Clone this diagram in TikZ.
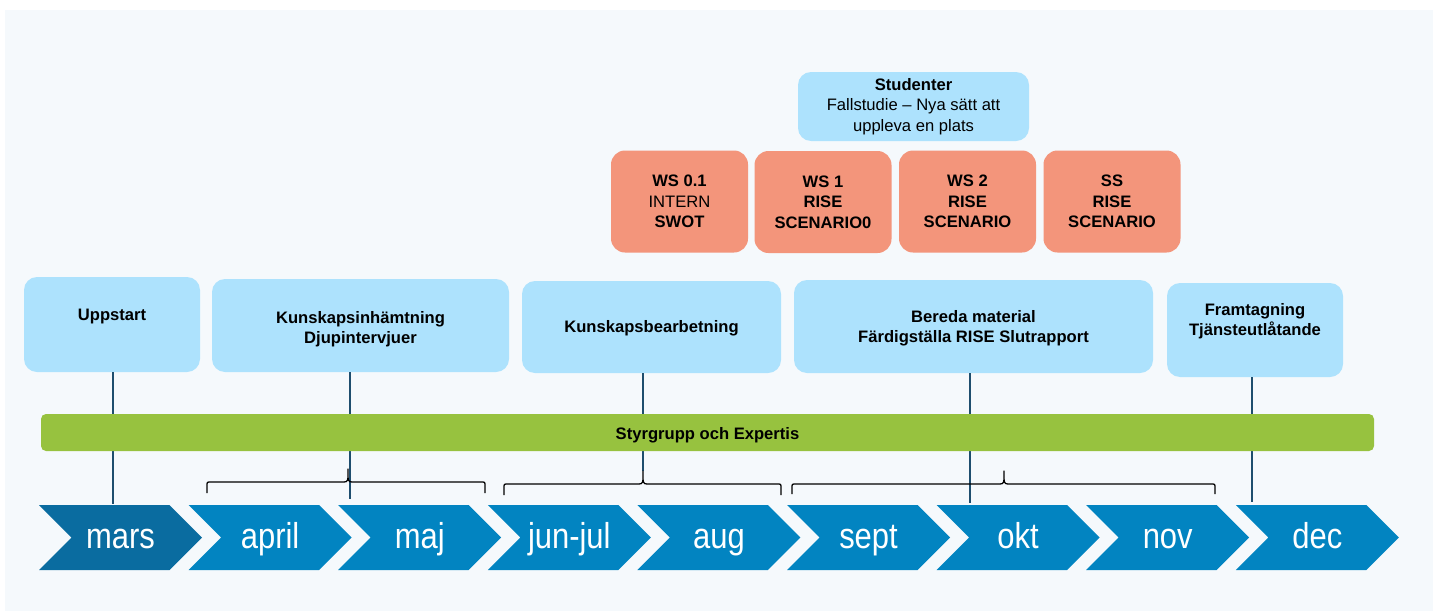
\documentclass[tikz,border=0pt]{standalone}
\usepackage{fontspec}
\setmainfont{Liberation Sans}
\newfontfamily\monthfont{Liberation Sans}[FakeStretch=0.86]
\usetikzlibrary{shapes.symbols,calc}
\definecolor{panel}{RGB}{245,249,252}
\definecolor{lblue}{RGB}{173,226,253}
\definecolor{salmon}{RGB}{243,149,123}
\definecolor{barGreen}{RGB}{151,194,63}
\definecolor{chev}{RGB}{2,132,193}
\definecolor{chevdark}{RGB}{10,108,160}
\definecolor{lineblue}{RGB}{30,78,110}
\tikzset{
  boxfont/.style={font=\fontsize{16.6}{20.5}\selectfont},
  lbox/.style={fill=lblue, rounded corners=13pt, inner sep=0pt, align=center, boxfont},
  obox/.style={fill=salmon, rounded corners=14pt, inner sep=0pt, align=center,
    font=\bfseries\fontsize{16.6}{20.3}\selectfont, minimum width=137pt, minimum height=102pt},
  boxtext/.style={inner sep=0pt, anchor=north, align=center, font=\bfseries\fontsize{16.6}{20.5}\selectfont},
  month/.style={signal, signal to=east, signal from=west, signal pointer angle=90,
    minimum width=163pt, minimum height=65pt, inner sep=0pt, fill=chev, text=white,
    font=\monthfont\fontsize{36}{36}\selectfont, text height=29pt, text depth=8pt},
  vline/.style={draw=lineblue, line width=1.2pt},
  bracket/.style={draw=black, line width=1.3pt, line join=round},
}
\begin{document}
\begin{tikzpicture}[x=1pt,y=-1pt]
\useasboundingbox (0,0) rectangle (1437,613);
\fill[white] (0,0) rectangle (1437,613);
\fill[panel] (5,10) rectangle (1433,611);

% Studenter and workshops
\node[lbox, minimum width=231pt, minimum height=69pt] (stud) at (913.5,106.5)
  {\textbf{Studenter}\\Fallstudie – Nya sätt att\\uppleva en plats};
\node[obox] (ws01) at (679.5,201.5) {WS 0.1\\\mdseries INTERN\\SWOT};
\node[obox] (ws1) at (823,202) {WS 1\\RISE\\SCENARIO0};
\node[obox] (ws2) at (967.5,201.5) {WS 2\\RISE\\SCENARIO};
\node[obox] (ss) at (1112,201.5) {SS\\RISE\\SCENARIO};

% phase boxes
\node[lbox, minimum width=176pt, minimum height=95pt] (upp) at (112,324.5) {};
\node[lbox, minimum width=297pt, minimum height=93pt] (kun) at (360.5,325.5) {};
\node[lbox, minimum width=259pt, minimum height=92pt] (bea) at (651.5,327) {};
\node[lbox, minimum width=359pt, minimum height=93pt] (ber) at (973.5,326.5) {};
\node[lbox, minimum width=176pt, minimum height=94pt] (fra) at (1255,330) {};
\node[boxtext] (uppT) at (112,309) {Uppstart};
\node[boxtext] (kunT) at (360.5,311) {Kunskapsinhämtning\\Djupintervjuer};
\node[boxtext] (beaT) at (651.5,320) {Kunskapsbearbetning};
\node[boxtext] (berT) at (973.5,310) {Bereda material\\Färdigställa RISE Slutrapport};
\node[boxtext] (fraT) at (1255,303) {Framtagning\\Tjänsteutlåtande};

% end points of connectors
\coordinate (e1) at (113,504);
\coordinate (e2) at (350,499);
\coordinate (e3) at (643,471);
\coordinate (e4) at (970,503);
\coordinate (e5) at (1252,502);

\draw[vline] (upp.south -| e1) -- (e1);
\draw[vline] (kun.south -| e2) -- (e2);
\draw[vline] (bea.south -| e3) -- (e3);
\draw[vline] (ber.south -| e4) -- (e4);
\draw[vline] (fra.south -| e5) -- (e5);

% green bar
\node[fill=barGreen, rounded corners=5pt, minimum width=1333pt, minimum height=37pt,
  inner sep=0pt, font=\bfseries\fontsize{16.6}{20}\selectfont, text height=16.4pt, text depth=3.4pt]
  (bar) at (707.5,432.5) {Styrgrupp och Expertis};

% braces
\coordinate (b1l) at (207,493); \coordinate (b1r) at (485,493); \coordinate (b1t) at (348,469);
\coordinate (b2l) at (504,495); \coordinate (b2r) at (781,495); \coordinate (b2t) at (643,471);
\coordinate (b3l) at (792,494); \coordinate (b3r) at (1215,494); \coordinate (b3t) at (1004,471);
\foreach \b in {b1,b2,b3}{
  \draw[bracket] let \p1=(\b l), \p2=(\b r), \p3=(\b t) in
    (\p1) -- (\x1,\y3-17pt) .. controls (\x1,\y3-13pt) .. (\x1+4pt,\y3-13pt)
    -- (\x3-4pt,\y3-13pt)
    .. controls (\x3-0.5pt,\y3-13pt) and (\x3,\y3-11pt) .. (\x3,\y3-7pt) -- (\p3)
    -- (\x3,\y3-7pt)
    .. controls (\x3,\y3-11pt) and (\x3+0.5pt,\y3-13pt) .. (\x3+4pt,\y3-13pt)
    -- (\x2-4pt,\y3-13pt) .. controls (\x2,\y3-13pt) .. (\x2,\y3-17pt) -- (\p2);
}

% months
\node[month, fill=chevdark] (m0) at (120.5,537.5) {mars};
\node[month] (m1) at (270.1,537.5) {april};
\node[month] (m2) at (419.7,537.5) {maj};
\node[month] (m3) at (569.3,537.5) {jun-jul};
\node[month] (m4) at (718.9,537.5) {aug};
\node[month] (m5) at (868.5,537.5) {sept};
\node[month] (m6) at (1018.1,537.5) {okt};
\node[month] (m7) at (1167.7,537.5) {nov};
\node[month] (m8) at (1317.3,537.5) {dec};
\end{tikzpicture}
\end{document}
